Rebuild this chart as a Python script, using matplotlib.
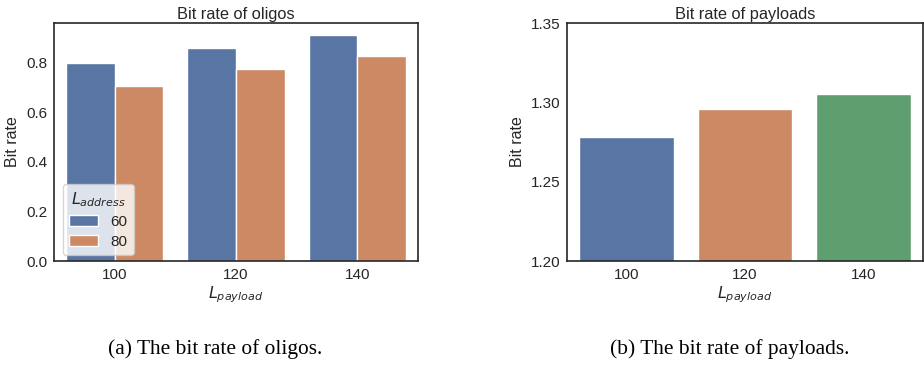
import matplotlib
matplotlib.use("Agg")
import matplotlib.pyplot as plt
import numpy as np

# data
payload_lengths = ["100", "120", "140"]
address_lengths = ["60", "80"]
oligo_rate_60 = [0.798, 0.861, 0.913]
oligo_rate_80 = [0.707, 0.776, 0.828]
payload_rate = [1.278, 1.2955, 1.3055]

colors = ["#5875A4", "#CC8963", "#5F9E6E"]

plt.rcParams["font.family"] = ["Liberation Sans", "DejaVu Sans"]
plt.rcParams["font.size"] = 11
plt.rcParams["axes.labelsize"] = 11.5
plt.rcParams["axes.titlesize"] = 11.8
plt.rcParams["axes.edgecolor"] = "#262626"
plt.rcParams["axes.linewidth"] = 1.2
plt.rcParams["text.color"] = "#262626"
plt.rcParams["xtick.color"] = "#262626"
plt.rcParams["ytick.color"] = "#262626"
plt.rcParams["axes.labelcolor"] = "#262626"

fig = plt.figure(figsize=(9.24, 3.67), dpi=100)
ax1 = fig.add_axes([0.0584, 0.2888, 0.394, 0.6485])
ax2 = fig.add_axes([0.6136, 0.2888, 0.3853, 0.6485])

# left: grouped bars
x = np.arange(len(payload_lengths))
w = 0.4
ax1.bar(x - w / 2, oligo_rate_60, w, color=colors[0], edgecolor="white", linewidth=1, label=address_lengths[0])
ax1.bar(x + w / 2, oligo_rate_80, w, color=colors[1], edgecolor="white", linewidth=1, label=address_lengths[1])
ax1.set_xlim(-0.5, 2.5)
ax1.set_ylim(0, 0.96)
ax1.set_yticks([0.0, 0.2, 0.4, 0.6, 0.8])
ax1.set_xticks(x)
ax1.set_xticklabels(payload_lengths)
ax1.set_title("Bit rate of oligos", pad=3)
ax1.set_xlabel("$L_{payload}$", labelpad=2)
ax1.set_ylabel("Bit rate")
leg = ax1.legend(title="$L_{address}$", loc="lower left", bbox_to_anchor=(0.025, 0.025),
                 frameon=True, fontsize=11, handlelength=1.9, borderaxespad=0.0,
                 handletextpad=0.8, labelspacing=0.4, borderpad=0.4, fancybox=True)
leg.get_frame().set_alpha(0.8)
leg.get_frame().set_edgecolor("#cccccc")
leg.get_title().set_fontsize(11.5)

# right: single bars
ax2.bar(x, payload_rate, 0.8, color=colors, edgecolor="white", linewidth=1)
ax2.set_xlim(-0.5, 2.5)
ax2.set_ylim(1.20, 1.35)
ax2.set_yticks([1.20, 1.25, 1.30, 1.35])
ax2.set_xticks(x)
ax2.set_xticklabels(payload_lengths)
ax2.set_title("Bit rate of payloads", pad=3)
ax2.set_xlabel("$L_{payload}$", labelpad=2)
ax2.set_ylabel("Bit rate")

for ax in (ax1, ax2):
    ax.tick_params(length=0, pad=5)

fig.text(0.2327, 0.05, "(a) The bit rate of oligos.", ha="center", va="center",
         family="Liberation Serif", fontsize=15.4, color="black")
fig.text(0.79, 0.05, "(b) The bit rate of payloads.", ha="center", va="center",
         family="Liberation Serif", fontsize=15.4, color="black")

fig.savefig("out.png", dpi=100)
